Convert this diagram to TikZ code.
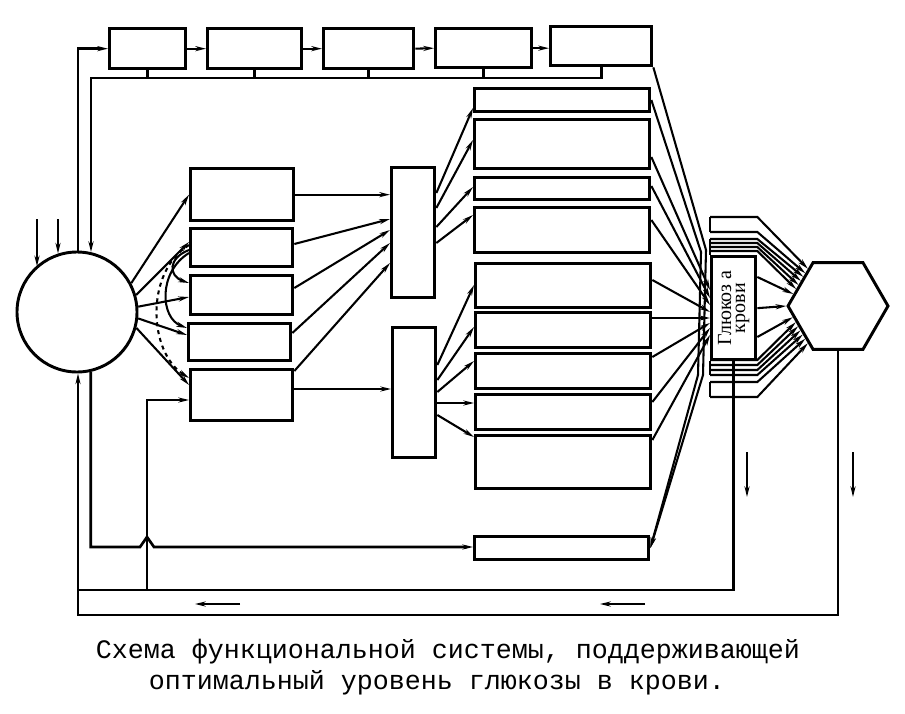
\documentclass[tikz,border=0pt]{standalone}
\usepackage{fontspec}
\setmainfont{Liberation Serif}
\newfontfamily\capfont{Liberation Mono}
\usetikzlibrary{arrows.meta,shapes.geometric}
\newcommand\mybox[5]{\node[bx, minimum width=#4*0.75pt, minimum height=#5*0.75pt] (#1) at (#2,#3) {};}
\begin{document}
\begin{tikzpicture}[x=0.75pt,y=-0.75pt,
  bx/.style={draw, line width=2.5pt, inner sep=0pt, anchor=north west, fill=white},
  ln/.style={line width=1.55pt},
  fb/.style={line width=2pt},
  arw/.style={-{Stealth[length=8pt,width=3.8pt]}}]
\useasboundingbox (0,0) rectangle (905,713);

% circle
\node[draw, circle, line width=2.2pt, minimum size=120*0.75pt, inner sep=0pt] (C) at (77,312) {};

% top row
\mybox{T1}{108}{27}{76}{40}
\mybox{T2}{206}{27}{94}{40}
\mybox{T3}{322}{27}{90}{40}
\mybox{T4}{434}{27}{96}{39}
\mybox{T5}{549}{25}{101}{39}

% left column
\mybox{L1}{189}{167}{103}{52}
\mybox{L2}{189}{227}{102}{38}
\mybox{L3}{189}{274}{102}{39}
\mybox{L4}{187}{322}{102}{37}
\mybox{L5}{189}{368}{102}{51}

% middle
\mybox{M1}{390}{166}{43}{130}
\mybox{M2}{391}{326}{43}{130}

% right column
\mybox{R1}{473}{87}{175}{23}
\mybox{R2}{473}{118}{175}{49}
\mybox{R3}{473}{176}{175}{22}
\mybox{R4}{473}{206}{175}{45}
\mybox{R5}{474}{262}{175}{44}
\mybox{R6}{474}{311}{175}{35}
\mybox{R7}{474}{352}{175}{35}
\mybox{R8}{474}{393}{175}{35}
\mybox{R9}{474}{434}{175}{53}
\mybox{B}{473}{535}{174}{23}

% glucose box
\mybox{G}{710}{255}{44}{103}
\node[rotate=90, align=center, font=\fontsize{15}{10.5}\selectfont] at (G.center) {Глюкоз а\\крови};

% hexagon
\node[draw, regular polygon, regular polygon sides=6, minimum size=100*0.75pt, inner sep=0pt, line width=2.2pt] (H) at (838,306) {};

% inputs to circle
\coordinate (in1) at (37,219);
\coordinate (in2) at (58,219);
\draw[ln,arw] (in1) -- (in1 |- C.132);
\draw[ln,arw] (in2) -- (in2 |- C.108);

% top chain
\draw[fb,arw] (C.89) |- (T1.west);
\draw[ln,arw] (T1.east) -- (T2.west);
\draw[ln,arw] (T2.east) -- (T3.west);
\draw[ln,arw] (T3.east) -- (T4.west);
\draw[ln,arw] (T4.east) -- (T4.east -| T5.west);
\coordinate (fbA) at (91,78);
\foreach \b in {T1,T2,T3,T4} \draw[fb] (\b.south) -- (\b.south |- fbA);
\draw[fb,arw] (T5.south) -- (T5.south |- fbA) -- (fbA) -- (fbA |- C.77);

% circle to left column
\draw[ln,arw] (C.28) -- (L1.west);
\draw[ln,arw] (C.16) -- (L2.west |- 0,242);
\draw[ln,arw] (C.5) -- (L3.west |- 0,297);
\draw[ln,arw] (C.-6) -- (L4.west |- 0,335);
\draw[ln,arw] (C.-15) -- (L5.west |- 0,385);
\draw[ln,arw] (L2.west |- 0,250) .. controls (168,258) and (168,276) .. (L3.west |- 0,283);
\draw[ln,arw] (L2.west |- 0,253) .. controls (158,272) and (160,318) .. (L4.west |- 0,328);
\draw[ln,dashed,arw] (L2.west |- 0,245) .. controls (145,272) and (148,352) .. (L5.west |- 0,378);

% left column to middle
\draw[ln,arw] (L1.east) -- (L1.east -| M1.west);
\draw[ln,arw] (L2.east |- 0,244) -- (M1.west |- 0,219);
\draw[ln,arw] (L3.east |- 0,288) -- (M1.west |- 0,230);
\draw[ln,arw] (L4.east |- 0,333) -- (M1.west |- 0,243);
\draw[ln,arw] (L5.east |- 0,371) -- (M1.west |- 0,263);
\draw[ln,arw] (L5.east |- 0,389) -- (M2.west |- 0,389);

% middle to right column
\draw[ln,arw] (M1.east |- 0,193) -- (R1.west |- 0,108);
\draw[ln,arw] (M1.east |- 0,208) -- (R2.west |- 0,140);
\draw[ln,arw] (M1.east |- 0,227) -- (R3.west |- 0,187);
\draw[ln,arw] (M1.east |- 0,243) -- (R4.west |- 0,215);
\draw[ln,arw] (M2.east |- 0,365) -- (R5.west |- 0,285);
\draw[ln,arw] (M2.east |- 0,380) -- (R6.west |- 0,327);
\draw[ln,arw] (M2.east |- 0,392) -- (R7.west |- 0,361);
\draw[ln,arw] (M2.east |- 0,403) -- (R8.west |- 0,403);
\draw[ln,arw] (M2.east |- 0,415) -- (R9.west |- 0,437);

% right column to glucose
\draw[ln,arw] (R2.east |- 0,157) -- (G.west |- 0,290);
\draw[ln,arw] (R3.east |- 0,186) -- (G.west |- 0,298);
\draw[ln,arw] (R4.east |- 0,220) -- (G.west |- 0,305);
\draw[ln,arw] (R5.east |- 0,280) -- (G.west |- 0,312);
\draw[ln,arw] (R6.east |- 0,318) -- (G.west |- 0,318);
\draw[ln,arw] (R7.east |- 0,357) -- (G.west |- 0,323);
\draw[ln,arw] (R8.east |- 0,402) -- (G.west |- 0,328);
\draw[ln,arw] (R9.east |- 0,440) -- (G.west |- 0,335);

% pass-by lines to bottom box
\coordinate (k1) at (706,250);
\coordinate (k2) at (703,375);
\coordinate (k3) at (701,252);
\coordinate (k4) at (698,375);
\draw[ln,arw] (T5.south east) -- (k1) -- (k2) -- (B.east);
\draw[ln,arw] (R1.east |- 0,100) -- (k3) -- (k4) -- (B.east);

% glucose to hexagon
\draw[ln,arw] (G.east |- 0,277) -- (H.165);
\draw[ln,arw] (G.east) -- (H.180);
\draw[ln,arw] (G.east |- 0,337) -- (H.194);

% upper bracket lines
\draw[ln] (G.north west |- 0,232) -- (G.north west |- 0,217);
\draw[ln] (G.north west |- 0,239) -- (G.north west);
\foreach \yy/\a in {217/129, 232/135, 239/140, 243/146, 247/152, 251/158}
  \draw[ln,arw] (G.north west |- 0,\yy) -- (G.north east |- 0,\yy) -- (H.\a);
% lower bracket lines
\draw[ln] (G.south west) -- (G.south west |- 0,375);
\draw[ln] (G.south west |- 0,382) -- (G.south west |- 0,397);
\foreach \yy/\a in {360/201, 365/207, 370/213, 375/219, 382/225, 397/231}
  \draw[ln,arw] (G.south west |- 0,\yy) -- (G.south east |- 0,\yy) -- (H.\a);

% feedback loops
\coordinate (o1) at (78,615);
\coordinate (o2) at (78,590);
\coordinate (o3) at (147,590);
\draw[fb,arw] (H.south) |- (o1) -- (o1 |- C.271);
\draw[fb] (G.south) |- (o2);
\draw[fb,arw] (o3) |- (L5.west |- 0,400);
\coordinate (o4) at (90,547);
\coordinate (h1) at (140,547);
\coordinate (h2) at (147,537);
\coordinate (h3) at (154,547);
\draw[fb,arw] (C.283) -- (C.283 |- o4) -- (h1) -- (h2) -- (h3) -- (B.west |- o4);

% loose arrows
\coordinate (a1s) at (240,604); \coordinate (a1e) at (195,604);
\coordinate (a2s) at (645,604); \coordinate (a2e) at (600,604);
\coordinate (d1s) at (747,452); \coordinate (d1e) at (747,497);
\coordinate (d2s) at (853,452); \coordinate (d2e) at (853,497);
\draw[ln,arw] (a1s) -- (a1e);
\draw[ln,arw] (a2s) -- (a2e);
\draw[ln,arw] (d1s) -- (d1e);
\draw[ln,arw] (d2s) -- (d2e);

% caption
\node[font=\capfont\fontsize{20}{24}\selectfont] (cap1) at (448,652) {Схема функциональной системы, поддерживающей};
\node[font=\capfont\fontsize{20}{24}\selectfont] (cap2) at (437,683) {оптимальный уровень глюкозы в крови.};
\end{tikzpicture}
\end{document}
